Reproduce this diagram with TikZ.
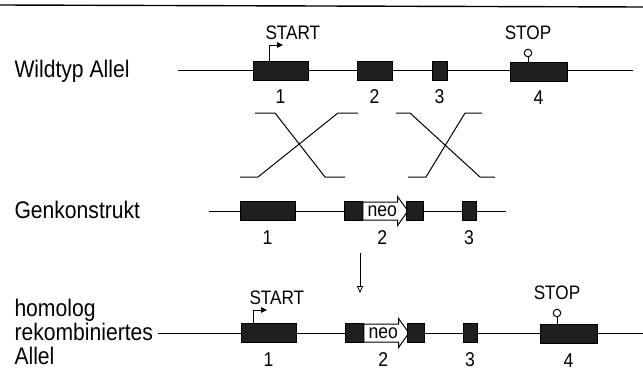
\documentclass[tikz,border=0pt]{standalone}
\usepackage{fontspec}
\setmainfont{Liberation Sans}[FakeStretch=0.88]
\usetikzlibrary{positioning}
\usetikzlibrary{arrows.meta}
\usetikzlibrary{shapes.arrows}
\tikzset{>={Triangle[length=6pt,width=5.5pt]}}
\tikzset{exon/.style={draw, fill=black!88, inner sep=0pt, line width=0.8pt, minimum height=19pt}}
\tikzset{lab/.style={inner sep=0pt, font=\fontsize{24}{29}\selectfont}}
\tikzset{tag/.style={inner sep=0pt, font=\fontsize{19.5}{23}\selectfont}}
\tikzset{num/.style={inner sep=0pt, font=\fontsize{20}{24}\selectfont}}
\tikzset{stopmark/.style={draw, circle, fill=white, minimum size=7.5pt, inner sep=0pt}}
\tikzset{neo/.style={single arrow, draw, fill=white, inner xsep=0pt, inner ysep=3.3pt,
  text height=10.4pt, text depth=0pt, minimum height=45pt,
  single arrow head extend=5.5pt, single arrow tip angle=109, font=\fontsize{20}{24}\selectfont}}

\begin{document}
\begin{tikzpicture}[x=1pt, y=-1pt, line width=1pt]
\useasboundingbox (0,0) rectangle (643,378);

\draw[line width=1.4pt] (0,5) -- (643,7);

% Wildtyp
\coordinate (wl) at (178,70.5);
\coordinate (wr) at (633,70.5);
\draw (wl) -- (wr);
\node[lab, anchor=base west] (wt) at (14,77) {Wildtyp Allel};

\node[exon, minimum width=55pt] (w1) at (280.5,70.5) {};
\node[exon, minimum width=35pt] (w2) at (374.5,70.5) {};
\node[exon, minimum width=15pt] (w3) at (439.5,70.5) {};
\node[exon, minimum width=57pt] (w4) at (538.5,71.5) {};

\node[num] (wn1) [below=9pt of w1] {1};
\node[num] (wn2) [below=9pt of w2] {2};
\node[num] (wn3) [below=9pt of w3] {3};
\node[num] (wn4) [below=9pt of w4] {4};

\coordinate (s1) at (269,45);
\draw[->] (s1 |- w1.north) -- (s1) -- ++(14,0);
\node[tag] (st1) [above right=5pt and -4pt of s1] {START};

\node[stopmark] (sp1) at (528,53) {};
\draw (sp1) -- (sp1 |- w4.north);
\node[tag] (stp1) [above=9pt of sp1] {STOP};

% crossing over
\draw (255,113) -- (275,113) -- (325,177) -- (345,177);
\draw (240,177) -- (258,177) -- (338,113) -- (358,113);
\draw (396,113) -- (410,113) -- (480,177) -- (495,177);
\draw (408,177) -- (426,177) -- (465,113) -- (482,113);

% Genkonstrukt
\coordinate (gl) at (209,211);
\coordinate (gr) at (506,211);
\draw (gl) -- (gr);
\node[lab, anchor=base west] (gk) at (14,218) {Genkonstrukt};

\node[exon, minimum width=55pt] (g1) at (267.5,211) {};
\node[exon, minimum width=18pt] (g2a) at (353,211) {};
\node[neo, anchor=tail] (gneo) at (g2a.east) {neo};
\node[exon, minimum width=17pt] (g2b) at (414.5,211) {};
\node[exon, minimum width=14pt] (g3) at (469,211) {};

\node[num] (gn1) [below=9pt of g1] {1};
\node[num] (gn2) at (gneo |- gn1) {2};
\node[num] (gn3) [below=9pt of g3] {3};

\coordinate (dtop) at (360,253);
\coordinate (dbot) at (360,293);
\draw[-{Triangle[open,length=7pt,width=6pt]}, line width=0.8pt] (dtop) -- (dbot);

% homolog rekombiniert
\coordinate (hl) at (158,333);
\coordinate (hr) at (643,333);
\draw (hl) -- (hr);
\node[lab, anchor=base west] (hom) at (14,316) {homolog};
\node[lab, anchor=base west] (rek) at (14,340) {rekombiniertes};
\node[lab, anchor=base west] (all) at (14,364) {Allel};

\node[exon, minimum width=55pt] (h1) at (268.5,333) {};
\node[exon, minimum width=18pt] (h2a) at (354,333) {};
\node[neo, anchor=tail] (hneo) at (h2a.east) {neo};
\node[exon, minimum width=17pt] (h2b) at (415.5,333) {};
\node[exon, minimum width=14pt] (h3) at (470,333) {};
\node[exon, minimum width=57pt] (h4) at (568.5,334) {};

\node[num] (hn1) [below=9pt of h1] {1};
\node[num] (hn2) at (hneo |- hn1) {2};
\node[num] (hn3) [below=9pt of h3] {3};
\node[num] (hn4) [below=9pt of h4] {4};

\coordinate (s2) at (253,310);
\draw[->] (s2 |- h1.north) -- (s2) -- ++(14,0);
\node[tag] (st2) [above right=5pt and -4pt of s2] {START};

\node[stopmark] (sp2) at (557,313) {};
\draw (sp2) -- (sp2 |- h4.north);
\node[tag] (stp2) [above=9pt of sp2] {STOP};

\end{tikzpicture}
\end{document}
